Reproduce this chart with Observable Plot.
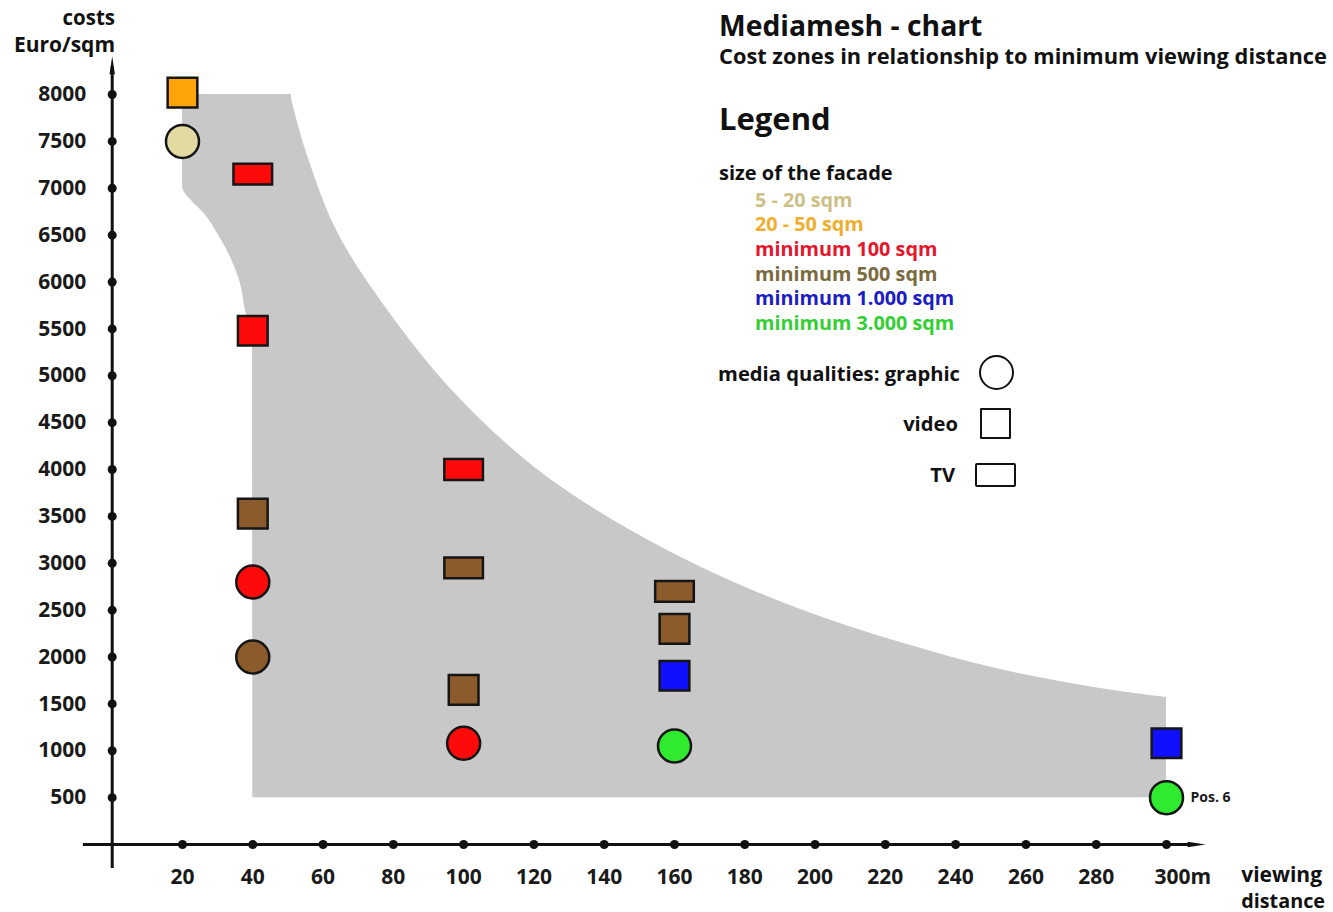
<!DOCTYPE html>
<html><head><meta charset="utf-8">
<script src="https://cdn.jsdelivr.net/npm/d3@7"></script>
<script src="https://cdn.jsdelivr.net/npm/@observablehq/plot@0.6"></script>
<style>
html,body{margin:0;padding:0;background:#fff;overflow:hidden}
#wrap{position:relative;width:1333px;height:912px;font-family:"Open Sans",sans-serif;color:#111}
#wrap svg{position:absolute;left:0;top:0;overflow:visible}
.t{position:absolute;line-height:1;white-space:nowrap;transform:translateY(-50%)}
.r{transform:translate(-100%,-50%)}
.sym{position:absolute;box-sizing:border-box;border:2.5px solid #111}
</style></head><body><div id="wrap"></div>
<script>
// ---- data ----
const sizeClasses = ["5 - 20 sqm", "20 - 50 sqm", "minimum 100 sqm", "minimum 500 sqm", "minimum 1.000 sqm", "minimum 3.000 sqm"];
const mediaTypes = ["graphic", "video", "TV"];

const distance = [20, 20, 40, 40, 40, 40, 40, 100, 100, 100, 100, 160, 160, 160, 160, 300, 300];
const cost     = [8020, 7500, 7150, 5480, 3530, 2800, 2000, 4000, 2950, 1650, 1080, 2700, 2300, 1800, 1050, 1080, 500];
const facade   = [1, 0, 2, 2, 3, 2, 3, 2, 3, 3, 2, 3, 3, 4, 5, 4, 5];
const media    = ["video", "graphic", "TV", "video", "video", "graphic", "graphic", "TV", "TV", "video", "graphic", "TV", "video", "video", "graphic", "video", "graphic"];
const pointLabels = ["", "", "", "", "", "", "", "", "", "", "", "", "", "", "", "", "Pos. 6"];

// cost zone
const zoneFloor = 500;
// upper-right boundary (distance -> cost)
const rightEdgeX = [50.7, 53.6, 57.3, 62.1, 67, 74.4, 82, 93.4, 104.8, 119.9, 138.9, 158, 181.6, 195.9, 224.3, 252.8, 281.2, 300];
const rightEdgeY = [8000, 7584, 7158, 6688, 6336, 5909, 5515, 4981, 4533, 4032, 3541, 3136, 2720, 2507, 2155, 1867, 1664, 1568];
// left boundary (cost -> distance)
const leftEdgeY = [500, 5376, 5696, 5984, 6336, 6692, 7030, 8000];
const leftEdgeX = [40, 39.9, 37.9, 36.5, 32.7, 27, 20, 20];

const xTicks = [20, 40, 60, 80, 100, 120, 140, 160, 180, 200, 220, 240, 260, 280, 300];
const yTicks = [500, 1000, 1500, 2000, 2500, 3000, 3500, 4000, 4500, 5000, 5500, 6000, 6500, 7000, 7500, 8000];
const xAxisExtent = [-8.2, 308];
const yAxisExtent = [-256, 8290];

// ---- styles ----
const fillColors = ["#e2d9a3", "#ffa50a", "#ff0a0a", "#8c5b2c", "#1010ff", "#2fea2f"];
const textColors = ["#cdbf86", "#efae2e", "#e3162c", "#7a6a3e", "#1c1cc4", "#33cf33"];
const zoneFill = "#c8c8c8";

const points = distance.map((d, i) => ({distance: d, cost: cost[i], size: sizeClasses[facade[i]], media: media[i], label: pointLabels[i]}));
const rightEdge = rightEdgeX.map((x, i) => ({x, y: rightEdgeY[i]}));
const leftEdge = leftEdgeY.map((y, i) => ({y, x: leftEdgeX[i]}));

function rectSymbol(hw, hh) {
  return {draw(ctx, size) {
    const r = Math.sqrt(size / Math.PI);
    const w = r * hw, h = r * hh;
    ctx.moveTo(-w, -h); ctx.lineTo(w, -h); ctx.lineTo(w, h); ctx.lineTo(-w, h); ctx.closePath();
  }};
}
const squareSym = rectSymbol(0.9, 0.9);
const tvSym = rectSymbol(1.17, 0.63);
const arrowSym = {draw(ctx, size) {
  const r = Math.sqrt(size / Math.PI);
  ctx.moveTo(0, -r); ctx.lineTo(r * 0.3, r); ctx.lineTo(-r * 0.3, r); ctx.closePath();
}};

const markerStyle = {stroke: "#151515", strokeWidth: 2.5};
const tickFont = {fontSize: 21, fontWeight: 700, fill: "#1a1a1a"};

const chart = Plot.plot({
  width: 1333, height: 912,
  marginLeft: 111.7, marginRight: 167, marginTop: 94, marginBottom: 68,
  x: {domain: [0, 300], axis: null},
  y: {domain: [0, 8000], axis: null},
  color: {domain: sizeClasses, range: fillColors},
  style: {fontFamily: "'Open Sans', sans-serif", background: "transparent", overflow: "visible"},
  marks: [
    Plot.areaY(rightEdge, {x: "x", y1: zoneFloor, y2: "y", curve: "monotone-x", fill: zoneFill}),
    Plot.areaX(leftEdge, {y: "y", x1: "x", x2: rightEdgeX[0] + 0.3, curve: "monotone-y", fill: zoneFill}),
    Plot.ruleX([0], {y1: yAxisExtent[0], y2: yAxisExtent[1], stroke: "#111", strokeWidth: 3}),
    Plot.ruleY([0], {x1: xAxisExtent[0], x2: xAxisExtent[1], stroke: "#111", strokeWidth: 3}),
    Plot.dot([yAxisExtent[1]], {x: 0, y: d => d, symbol: arrowSym, r: 9, fill: "#111", dy: -2}),
    Plot.dot([xAxisExtent[1]], {x: d => d, y: 0, symbol: arrowSym, r: 9, fill: "#111", rotate: 90, dx: 2}),
    Plot.dot(yTicks, {x: 0, y: d => d, r: 4.5, fill: "#111"}),
    Plot.dot(xTicks, {x: d => d, y: 0, r: 4.5, fill: "#111"}),
    Plot.text(yTicks, {x: 0, y: d => d, text: d => String(d), textAnchor: "end", dx: -26, ...tickFont}),
    Plot.text(xTicks.filter(d => d !== 300), {x: d => d, y: 0, text: d => String(d), dy: 33, ...tickFont}),
    Plot.text(xTicks.filter(d => d === 300), {x: d => d, y: 0, text: d => d + "m", textAnchor: "start", dy: 33, dx: -12, ...tickFont}),
    Plot.dot(points.filter(d => d.media === "graphic"), {x: "distance", y: "cost", fill: "size", r: 16.5, ...markerStyle}),
    Plot.dot(points.filter(d => d.media === "video"), {x: "distance", y: "cost", fill: "size", r: 16.5, symbol: squareSym, ...markerStyle}),
    Plot.dot(points.filter(d => d.media === "TV"), {x: "distance", y: "cost", fill: "size", r: 16.5, symbol: tvSym, ...markerStyle}),
    Plot.text(points.filter(d => d.label), {x: "distance", y: "cost", text: "label", textAnchor: "start", dx: 24, fontSize: 14, fontWeight: 700, fill: "#1a1a1a"})
  ]
});

const wrap = document.getElementById("wrap");
wrap.appendChild(chart);

function addText(txt, x, y, size, opts = {}) {
  const el = document.createElement("div");
  el.className = "t" + (opts.right ? " r" : "");
  el.textContent = txt;
  el.style.left = x + "px";
  el.style.top = y + "px";
  el.style.fontSize = size + "px";
  el.style.fontWeight = opts.weight || 700;
  if (opts.color) el.style.color = opts.color;
  wrap.appendChild(el);
}
function addSym(x, y, w, h, radius) {
  const el = document.createElement("div");
  el.className = "sym";
  el.style.left = (x - w / 2) + "px";
  el.style.top = (y - h / 2) + "px";
  el.style.width = w + "px";
  el.style.height = h + "px";
  el.style.borderRadius = radius;
  wrap.appendChild(el);
}

// axis titles
addText("costs", 115, 17, 20.5, {right: true});
addText("Euro/sqm", 115, 44, 21, {right: true});
addText("viewing", 1322, 874, 21, {right: true});
addText("distance", 1325, 901, 19.8, {right: true});

// title block
addText("Mediamesh - chart", 719, 25, 28.3);
addText("Cost zones in relationship to minimum viewing distance", 719, 56, 21.8);
addText("Legend", 719, 118, 31);
addText("size of the facade", 719, 172.5, 20);
sizeClasses.forEach((s, i) => addText(s, 755, 199.5 + i * 24.7, 19.8, {color: textColors[i]}));

addText("media qualities: graphic", 960, 373, 20.2, {right: true});
addText("video", 958, 423, 20.2, {right: true});
addText("TV", 955, 474, 20.2, {right: true});
addSym(996, 372, 35, 35, "50%");
addSym(995, 423, 31, 31, "1px");
addSym(995, 475, 41, 24, "2px");
</script>
</body></html>
